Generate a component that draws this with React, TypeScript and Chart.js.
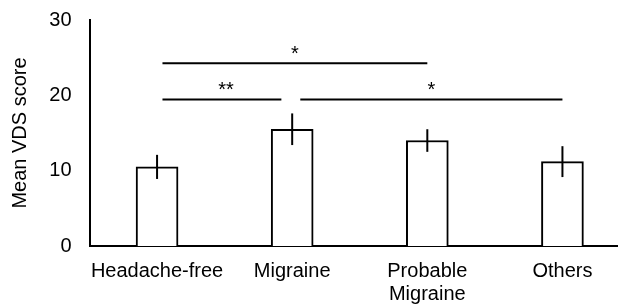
import React, { useEffect, useRef } from "react";
import { Chart, registerables } from "chart.js";

Chart.register(...registerables);

const categories: (string | string[])[] = ["Headache-free", "Migraine", ["Probable", "Migraine"], "Others"];
const meanValues = [10.5, 15.5, 14.0, 11.2];
const errorValues = [1.6, 2.1, 1.5, 2.05];
const yTicks = [0, 10, 20, 30];

const sigFrom = [0.04, 0.04, 1.06];
const sigTo = [2.0, 0.92, 3.0];
const sigY = [24.25, 19.45, 19.45];
const sigLabelX = [1.02, 0.51, 2.03];
const sigLabels = ["*", "**", "*"];

const FONT = "'Liberation Sans', Arial, sans-serif";

const overlayPlugin = {
  id: "overlay",
  afterDatasetsDraw(chart: any) {
    const ctx = chart.ctx;
    const xs = chart.scales.x;
    const ys = chart.scales.y;
    ctx.save();
    ctx.strokeStyle = "#000";
    ctx.lineWidth = 2;
    // error bars
    meanValues.forEach((m, i) => {
      const x = xs.getPixelForValue(i);
      ctx.beginPath();
      ctx.moveTo(x, ys.getPixelForValue(m + errorValues[i]));
      ctx.lineTo(x, ys.getPixelForValue(m - errorValues[i]));
      ctx.stroke();
    });
    // significance lines
    ctx.fillStyle = "#000";
    ctx.font = `20px ${FONT}`;
    ctx.textAlign = "center";
    ctx.textBaseline = "alphabetic";
    sigFrom.forEach((f, i) => {
      const yp = ys.getPixelForValue(sigY[i]);
      ctx.beginPath();
      ctx.moveTo(xs.getPixelForValue(f), yp);
      ctx.lineTo(xs.getPixelForValue(sigTo[i]), yp);
      ctx.stroke();
      ctx.fillText(sigLabels[i], xs.getPixelForValue(sigLabelX[i]), yp - 3);
    });
    ctx.restore();
  },
};

export default function App() {
  const ref = useRef<HTMLCanvasElement>(null);
  useEffect(() => {
    if (!ref.current) return;
    const chart = new Chart(ref.current, {
      type: "bar",
      data: {
        labels: categories as any,
        datasets: [
          {
            data: meanValues,
            backgroundColor: "#fff",
            borderColor: "#000",
            borderWidth: 2,
            borderSkipped: "bottom",
            barThickness: 42,
          },
        ],
      },
      options: {
        responsive: false,
        animation: false,
        devicePixelRatio: 1,
        layout: { padding: { top: 20, right: 0, left: 0, bottom: 0 } },
        plugins: { legend: { display: false }, tooltip: { enabled: false } },
        scales: {
          x: {
            afterFit: (s: any) => { s.height = 58; s.paddingLeft = 0; s.paddingRight = 0; },
            grid: { display: false, drawTicks: false },
            border: { color: "#000", width: 2 },
            ticks: {
              color: "#000",
              font: { family: FONT, size: 20, lineHeight: 1.15 },
              padding: 14,
              maxRotation: 0,
              autoSkip: false,
            },
          },
          y: {
            min: 0,
            max: 30,
            afterFit: (s: any) => { s.width = 89.5; s.paddingTop = 0; s.paddingBottom = 0; },
            afterBuildTicks: (s: any) => { s.ticks = yTicks.map((v) => ({ value: v })); },
            grid: { display: false, drawOnChartArea: false, drawTicks: true, tickLength: 5, tickColor: "#000", tickWidth: 2 } as any,
            border: { color: "#000", width: 2 },
            ticks: {
              color: "#000",
              font: { family: FONT, size: 20 },
              padding: 13,
            },
            title: {
              display: true,
              text: "Mean VDS score",
              color: "#000",
              font: { family: FONT, size: 20 },
              padding: { top: 8, bottom: 0 },
            },
          },
        },
      },
      plugins: [overlayPlugin],
    });
    return () => chart.destroy();
  }, []);
  return (
    <div style={{ position: "fixed", left: 0, top: 0, width: 618, height: 304, overflow: "hidden", background: "#fff" }}>
      <canvas ref={ref} width={630} height={304} style={{ width: 630, height: 304, display: "block" }} />
    </div>
  );
}
